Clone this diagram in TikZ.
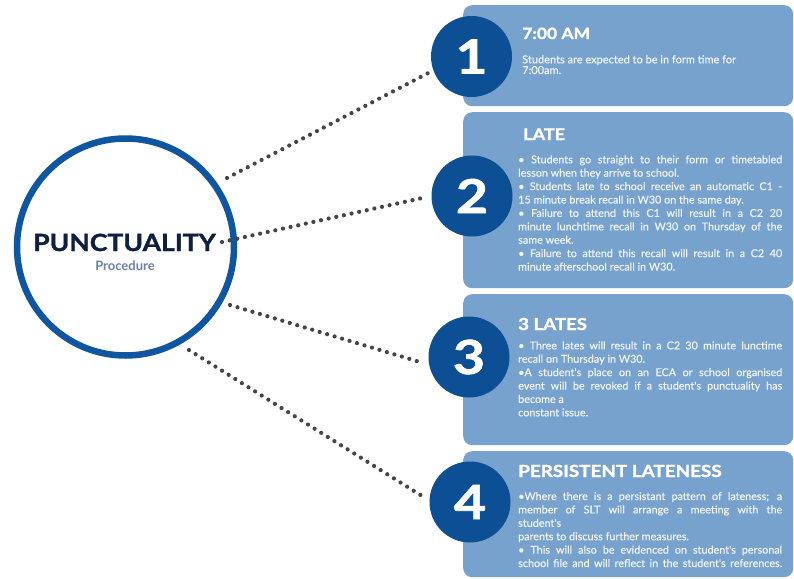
\documentclass[tikz,border=0pt]{standalone}
\usepackage{fontspec}
\setmainfont{Lato}
\newfontfamily\heavyfont{Lato}[BoldFeatures={FakeBold=1.3}]
\newfontfamily\bodyfont{Lato}[FakeBold=0.35]
\definecolor{boxblue}{HTML}{78A2CE}
\definecolor{numblue}{HTML}{0D4F95}
\definecolor{ringblue}{HTML}{0F55A0}
\definecolor{titlenavy}{HTML}{0F1F3F}
\definecolor{procgray}{HTML}{6A80AB}
\definecolor{dotgray}{HTML}{454545}
\definecolor{bodywhite}{HTML}{F0F5FB}
\newcommand\jline[1]{\hbox to 264pt{#1}}
\newcommand\pline[1]{\hbox{#1}}
\newcommand\wide[1]{\scalebox{1.13}[1]{#1}}
\newcommand\numtxt[1]{\scalebox{1.18}[1]{#1}}
\tikzset{
  panel/.style={fill=boxblue, rounded corners=9pt, inner sep=0pt, anchor=north west, minimum width=330pt},
  numcirc/.style={circle, fill=numblue, minimum size=81pt, inner sep=0pt, text=white, font=\heavyfont\bfseries\fontsize{47}{47}\selectfont},
  heading/.style={anchor=base west, inner sep=0pt, text=white},
  bodytext/.style={anchor=base west, inner sep=0pt, text=bodywhite, font=\bodyfont\fontsize{10.8}{13.4}\selectfont},
  dotline/.style={dotgray, line width=4.2pt, line cap=round, dash pattern=on 0pt off 7.8pt}
}
\begin{document}
\begin{tikzpicture}[x=1pt,y=-1pt]
\useasboundingbox (0,0) rectangle (794,578);
\fill[white] (0,0) rectangle (794,578);

% panels
\node[panel, minimum height=101pt] (b1) at (463,5) {};
\node[panel, minimum height=176pt] (b2) at (463,112) {};
\node[panel, minimum height=151pt] (b3) at (463,294) {};
\node[panel, minimum height=126pt] (b4) at (463,451) {};

% big circle
\node[circle, draw=ringblue, line width=6.5pt, minimum size=217pt, inner sep=0pt, fill=white] (big) at (125.5,247) {};
\node[anchor=base, inner sep=0pt, text=titlenavy, font=\heavyfont\bfseries\fontsize{23.7}{24}\selectfont] (title) at (124.5,251) {\scalebox{1.12}[1]{PUNCTUALITY}};
\node[anchor=base, inner sep=0pt, text=procgray, font=\bfseries\fontsize{13}{13}\selectfont] (proc) at (125,270) {Procedure};

% number circles
\node[numcirc] (c1) at (471.5,56.5) {\numtxt{1}};
\node[numcirc] (c2) at (472,196) {\numtxt{2}};
\node[numcirc] (c3) at (469,357) {\numtxt{3}};
\node[numcirc] (c4) at (470,502) {\numtxt{4}};

% connectors
\coordinate (s1) at (227,178);
\coordinate (s2) at (222,242);
\coordinate (s3) at (230,305);
\coordinate (s4) at (189,350);
\draw[dotline, shorten >=6pt] (s1) -- (c1.200);
\draw[dotline, shorten >=6pt] (s2) -- (c2.west);
\draw[dotline, shorten >=6pt] (s3) -- (c3.191);
\draw[dotline, shorten >=6pt] (s4) -- (c4.178);

% box 1
\node[heading, font=\heavyfont\bfseries\fontsize{15.5}{16}\selectfont] (h1) at (522,39) {\wide{7:00 AM}};
\node[bodytext, font=\bodyfont\fontsize{11}{10.7}\selectfont] (t1) at (522,63.3) {\vtop{%
\pline{Students are expected to be in form time for}
\pline{7:00am.}}};

% box 2
\node[heading, font=\heavyfont\bfseries\fontsize{16}{16}\selectfont] (h2) at (523,140) {\wide{LATE}};
\node[bodytext] (t2) at (518,163.3) {\vtop{%
\jline{• Students go straight to their form or timetabled}
\pline{lesson when they arrive to school.}
\jline{• Students late to school receive an automatic C1 -}
\pline{15 minute break recall in W30 on the same day.}
\jline{• Failure to attend this C1 will result in a C2 20}
\jline{minute lunchtime recall in W30 on Thursday of the}
\pline{same week.}
\jline{• Failure to attend this recall will result in a C2 40}
\pline{minute afterschool recall in W30.}}};

% box 3
\node[heading, font=\heavyfont\bfseries\fontsize{16.5}{17}\selectfont] (h3) at (518,330) {\wide{3 LATES}};
\node[bodytext] (t3) at (518,349.3) {\vtop{%
\jline{• Three lates will result in a C2 30 minute lunctime}
\pline{recall on Thursday in W30.}
\jline{•A student's place on an ECA or school organised}
\jline{event will be revoked if a student's punctuality has}
\pline{become a}
\pline{constant issue.}}};

% box 4
\node[heading, font=\heavyfont\bfseries\fontsize{16.7}{17}\selectfont] (h4) at (518,477) {\wide{PERSISTENT LATENESS}};
\node[bodytext] (t4) at (518,500) {\vtop{%
\jline{•Where there is a persistant pattern of lateness; a}
\jline{member of SLT will arrange a meeting with the}
\pline{student's}
\pline{parents to discuss further measures.}
\jline{• This will also be evidenced on student's personal}
\jline{school file and will reflect in the student's references.}}};
\end{tikzpicture}
\end{document}
